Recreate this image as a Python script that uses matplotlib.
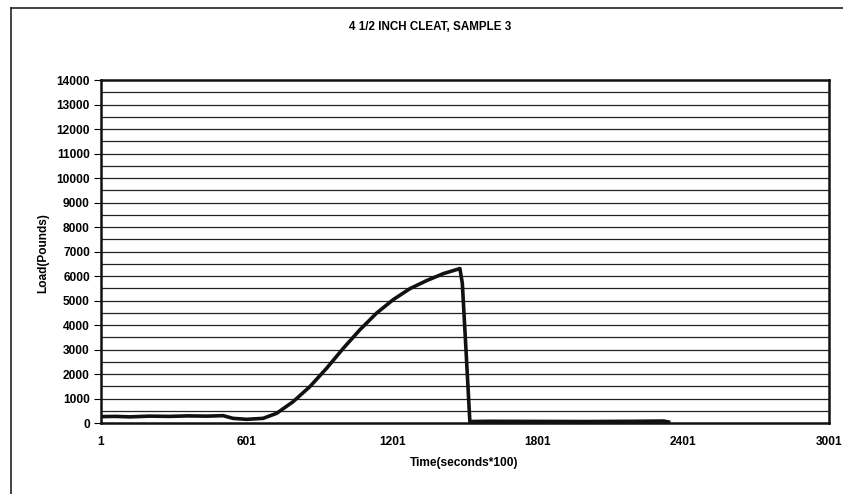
import matplotlib
matplotlib.use("Agg")
import matplotlib.pyplot as plt
from matplotlib.lines import Line2D
from matplotlib import font_manager as fm
import numpy as np

title = "4 1/2 INCH CLEAT, SAMPLE 3"
x_label = "Time(seconds*100)"
y_label = "Load(Pounds)"
x_ticks = [1, 601, 1201, 1801, 2401, 3001]
y_ticks = list(range(0, 14001, 1000))

time_pts = [1, 60, 120, 200, 280, 360, 440, 504, 545, 601, 669, 725, 793, 862,
            931, 1000, 1068, 1137, 1205, 1274, 1343, 1412, 1480, 1490, 1505,
            1521, 1600, 1800, 2000, 2200, 2320, 2340]
load_pts = [260, 270, 250, 280, 270, 290, 280, 300, 190, 150, 190, 396, 873, 1487,
            2237, 3056, 3806, 4488, 5034, 5484, 5812, 6098, 6303, 5700, 3000,
            60, 70, 65, 60, 70, 80, 40]

# find a regular-width bold sans (Arial-like)
bold_file = None
for f in fm.fontManager.ttflist:
    fn = f.fname.lower()
    if 'liberationsans-bold.ttf' in fn:
        bold_file = f.fname
        break
if bold_file:
    fp = lambda size: fm.FontProperties(fname=bold_file, size=size)
else:
    fp = lambda size: fm.FontProperties(family='DejaVu Sans', weight='bold', size=size)

fig = plt.figure(figsize=(8.43, 4.94), dpi=100)
W, H = 843, 494
left, right, top, bottom = 101, 829, 80, 423
ax = fig.add_axes([left / W, 1 - bottom / H, (right - left) / W, (bottom - top) / H])

ax.set_xlim(1, 3001)
ax.set_ylim(0, 14000)
for y in np.arange(500, 14000, 500):
    ax.axhline(y, color='#222222', lw=0.9, zorder=1)

ax.plot(time_pts, load_pts, color='#111111', lw=2.6, solid_joinstyle='round', zorder=3)

ax.set_xticks(x_ticks)
ax.set_xticklabels([str(t) for t in x_ticks], fontproperties=fp(8.6))
ax.set_yticks(y_ticks)
ax.set_yticklabels([str(t) for t in y_ticks], fontproperties=fp(8.6))
ax.tick_params(axis='y', length=5, width=0.8, pad=3)
ax.tick_params(axis='x', length=0, pad=9)
for s in ax.spines.values():
    s.set_linewidth(1.8)
    s.set_color('#111111')

fig.text(464 / W, 1 - 463 / H, x_label, ha='center', va='center', fontproperties=fp(8.6))
fig.text(43 / W, 1 - 253 / H, y_label, ha='center', va='center', rotation=90, fontproperties=fp(8.6))
fig.text(430 / W, 1 - 27 / H, title, ha='center', va='center', fontproperties=fp(8.4))

# outer chart frame (top and left edges visible)
fig.add_artist(Line2D([11 / W, 1.0], [1 - 8 / H, 1 - 8 / H], transform=fig.transFigure, color='#222222', lw=1.2))
fig.add_artist(Line2D([11 / W, 11 / W], [0, 1 - 8 / H], transform=fig.transFigure, color='#222222', lw=1.2))

fig.savefig("out.png", dpi=100)
